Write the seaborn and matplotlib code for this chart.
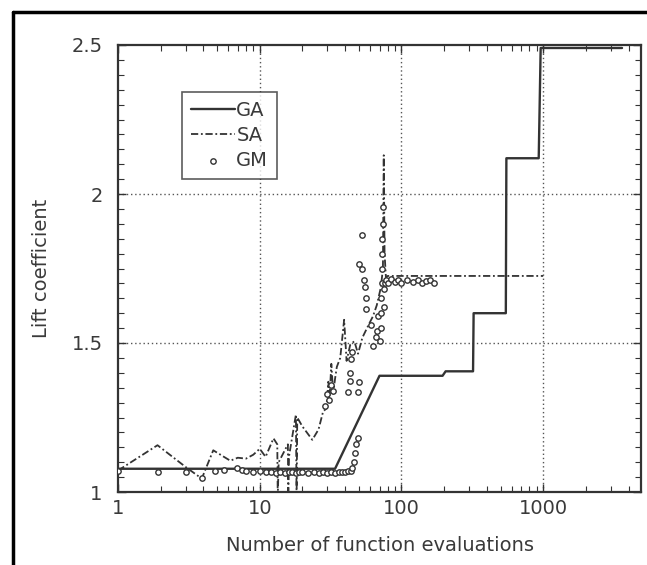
import numpy as np
import pandas as pd
import matplotlib
matplotlib.use("Agg")
import matplotlib.pyplot as plt
import seaborn as sns
from matplotlib.lines import Line2D
from matplotlib.ticker import MultipleLocator, LogLocator, NullFormatter, FixedLocator, FixedFormatter

# --------------------------
# Data
# --------------------------
ga_x = [1, 34, 70, 195, 205, 320, 323, 545, 550, 930, 960, 3600]
ga_y = [1.078, 1.078, 1.39, 1.39, 1.405, 1.405, 1.60, 1.60, 2.12, 2.12, 2.49, 2.49]

sa_x = [1, 1.9, 3.0, 3.9, 4.7, 5.5, 6.2, 7.0, 8.0, 9.0, 10, 11, 12.5, 13.3, 13.4, 13.6,
        15.8, 15.9, 16.1, 18.0, 18.2, 18.4, 20, 23.5, 26, 28, 29.5, 30.5, 31, 32, 33,
        34, 35, 37, 39.4, 41, 43.5, 46.5, 49.4, 53, 58.5, 63, 67, 71.6, 74, 75, 76,
        77.7, 80, 1000]
sa_y = [1.072, 1.157, 1.084, 1.045, 1.14, 1.12, 1.105, 1.115, 1.112, 1.125, 1.145, 1.118,
        1.18, 1.16, 0.98, 1.10, 1.16, 0.98, 1.12, 1.26, 0.98, 1.25, 1.22, 1.175, 1.21,
        1.27, 1.28, 1.37, 1.30, 1.43, 1.33, 1.38, 1.42, 1.45, 1.578, 1.44, 1.494, 1.506,
        1.464, 1.518, 1.56, 1.59, 1.627, 1.687, 1.75, 2.13, 1.80, 1.72, 1.725, 1.725]

gm_x = [1, 1.93, 3.0, 3.9, 4.8, 5.6, 6.9, 7.5, 8, 9, 10, 11, 12, 13, 14, 15, 16, 17,
        18, 19, 20, 22, 24, 26, 28, 30, 32, 34, 36, 38, 40, 42, 44, 45, 46, 47, 48, 49,
        29, 30, 31, 32, 33,
        42, 43, 43.6, 44, 45, 49.5, 50, 53, 50.5, 53, 54.6, 55, 56.5, 56, 60.5, 63, 66,
        67, 68, 71, 71.5, 72, 72, 72.5, 72.5, 73, 73, 73.5, 74, 75, 75, 76, 78, 80, 85,
        90, 95, 100, 110, 120, 130, 140, 150, 160, 170]
gm_y = [1.07, 1.066, 1.066, 1.048, 1.072, 1.075, 1.08, 1.075, 1.072, 1.068, 1.07, 1.066,
        1.068, 1.064, 1.066, 1.065, 1.068, 1.066, 1.065, 1.067, 1.066, 1.065, 1.066, 1.065,
        1.066, 1.065, 1.066, 1.065, 1.066, 1.067, 1.068, 1.07, 1.072, 1.08, 1.10, 1.13,
        1.16, 1.18,
        1.29, 1.33, 1.31, 1.36, 1.34,
        1.337, 1.373, 1.40, 1.446, 1.47, 1.337, 1.37, 1.861, 1.765, 1.747,
        1.711, 1.687, 1.65, 1.614, 1.56, 1.49, 1.52, 1.54, 1.59, 1.506, 1.55, 1.60, 1.65,
        1.70, 1.75, 1.80, 1.85, 1.90, 1.958, 1.62, 1.68, 1.70, 1.71, 1.70, 1.715, 1.705,
        1.71, 1.70, 1.712, 1.705, 1.71, 1.70, 1.708, 1.71, 1.70]

df_ga = pd.DataFrame({"x": ga_x, "y": ga_y})
df_sa = pd.DataFrame({"x": sa_x, "y": sa_y})
df_gm = pd.DataFrame({"x": gm_x, "y": gm_y})

# --------------------------
# Plot
# --------------------------
sns.set_style("ticks")
plt.rcParams["font.family"] = ["DejaVu Sans"]
ink = "#333333"
txt = "#3a3a3a"

fig = plt.figure(figsize=(6.47, 5.65), dpi=100)
ax = fig.add_axes([118/647, 1 - 492/565, 523/647, 447/565])

sns.lineplot(data=df_ga, x="x", y="y", ax=ax, sort=False, estimator=None,
             color=ink, lw=1.7, label="GA")
sns.lineplot(data=df_sa, x="x", y="y", ax=ax, sort=False, estimator=None,
             color=ink, lw=1.3, dashes=False, label="SA")
ax.lines[-1].set_dashes((4, 1.5, 1, 1.5))
sns.scatterplot(data=df_gm, x="x", y="y", ax=ax, marker="o", s=15,
                facecolor="white", edgecolor=ink, linewidth=1.0, label="GM", zorder=3)

ax.set_xscale("log")
ax.set_xlim(1, 4900)
ax.set_ylim(1, 2.5)

ax.xaxis.set_major_locator(FixedLocator([1, 10, 100, 1000]))
ax.xaxis.set_major_formatter(FixedFormatter(["1", "10", "100", "1000"]))
ax.xaxis.set_minor_locator(LogLocator(base=10, subs=np.arange(2, 10)))
ax.xaxis.set_minor_formatter(NullFormatter())
ax.yaxis.set_major_locator(FixedLocator([1, 1.5, 2, 2.5]))
ax.yaxis.set_major_formatter(FixedFormatter(["1", "1.5", "2", "2.5"]))
ax.yaxis.set_minor_locator(MultipleLocator(0.05))

ax.tick_params(which="both", direction="in", top=True, right=True, color=ink,
               labelcolor=txt, labelsize=14)
ax.tick_params(which="major", length=6, width=1)
ax.tick_params(which="minor", length=4, width=0.8)
ax.tick_params(axis="y", pad=11)
ax.tick_params(axis="x", pad=5)

for x in [10, 100, 1000]:
    ax.axvline(x, color="#555555", lw=1, ls=(0, (1, 2)), zorder=0)
for y in [1.5, 2.0]:
    ax.axhline(y, color="#555555", lw=1, ls=(0, (1, 2)), zorder=0)

for s in ax.spines.values():
    s.set_color(ink)
    s.set_linewidth(1.6)

ax.set_xlabel("Number of function evaluations", fontsize=14, color=txt, labelpad=13)
ax.set_ylabel("Lift coefficient", fontsize=14, color=txt, labelpad=15)

leg = ax.legend(loc="upper left", bbox_to_anchor=(0.122, 0.895), fontsize=14,
                frameon=True, fancybox=False, handlelength=2.3, handletextpad=0.05,
                borderpad=0.45, labelspacing=0.32, borderaxespad=0, markerscale=1.0)
leg.get_frame().set_edgecolor(ink)
leg.get_frame().set_linewidth(1.2)
for t in leg.get_texts():
    t.set_color(txt)

# scan border (top and left)
fig.add_artist(Line2D([13/647, 1], [1 - 12/565, 1 - 12/565], color="black", lw=2.5,
                      transform=fig.transFigure))
fig.add_artist(Line2D([13/647, 13/647], [1 - 12/565, 0], color="black", lw=2.5,
                      transform=fig.transFigure))

fig.savefig("out.png", dpi=100)
